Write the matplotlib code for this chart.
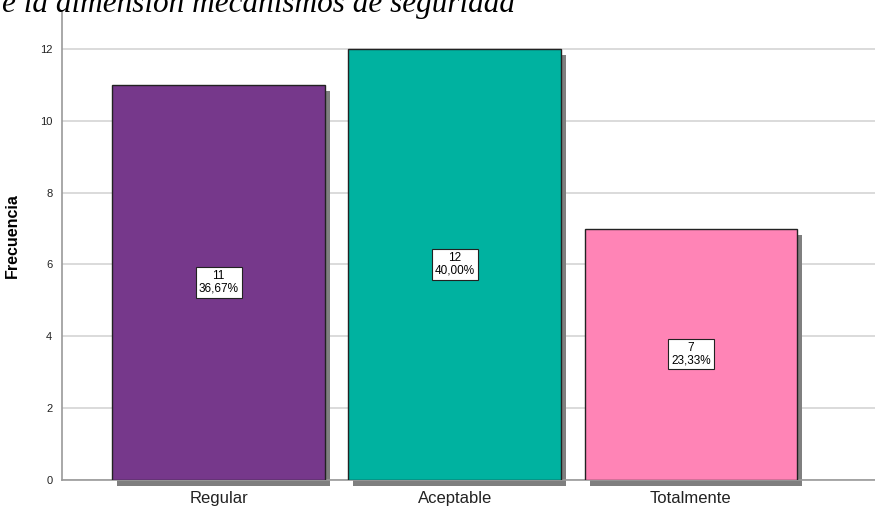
import matplotlib.pyplot as plt
from matplotlib.transforms import ScaledTranslation

categorias = ["Regular", "Aceptable", "Totalmente"]
frecuencias = [11, 12, 7]
porcentajes = ["36,67%", "40,00%", "23,33%"]
colores = ["#76388B", "#00B2A0", "#FF84B6"]
yticks = [0, 2, 4, 6, 8, 10, 12]

plt.rcParams['font.family'] = ['Liberation Sans', 'DejaVu Sans']

fig = plt.figure(figsize=(8.75, 5.08), dpi=100)
ax = fig.add_axes([62/875, 1-480/508, 813/875, 468/508])

x = range(len(categorias))
# sombra de las barras
sombra = ax.transData + ScaledTranslation(5/100, -6/100, fig.dpi_scale_trans)
for i, v in zip(x, frecuencias):
    ax.bar(i, v, width=0.9, color="#7f7f7f", transform=sombra, zorder=2, clip_on=False)
ax.bar(x, frecuencias, width=0.9, color=colores, edgecolor="#222222", linewidth=1, zorder=3)

for i, v, p in zip(x, frecuencias, porcentajes):
    ax.text(i, v/2, f"{v}\n{p}", ha="center", va="center", fontsize=8.5, linespacing=1.05, zorder=4,
            bbox=dict(boxstyle="square,pad=0.25", facecolor="white", edgecolor="#222222", linewidth=0.8))

ax.set_xlim(-0.663, 2.78)
ax.set_ylim(0, 13.03)
ax.set_xticks(list(x))
ax.set_xticklabels(categorias, fontsize=12, color="#222222")
ax.set_yticks(yticks)
ax.tick_params(axis="y", labelsize=8, length=0, pad=7, labelcolor="#222222")
ax.tick_params(axis="x", length=0, pad=8)
ax.grid(axis="y", color="#d4d4d4", linewidth=1.2, zorder=0)
ax.set_axisbelow(True)
for s in ["top", "right"]:
    ax.spines[s].set_visible(False)
for s in ["left", "bottom"]:
    ax.spines[s].set_color("#999999")
    ax.spines[s].set_linewidth(1.2)
ax.set_ylabel("Frecuencia", fontsize=11.5, fontweight="bold")
ax.yaxis.set_label_coords(-0.052, 0.523)

fig.text(0.002, 1-12/508, "e la dimensión mecanismos de seguridad", fontsize=22.5,
         family="Liberation Serif", style="italic", va="baseline", ha="left")

fig.savefig("out.png", dpi=100)
